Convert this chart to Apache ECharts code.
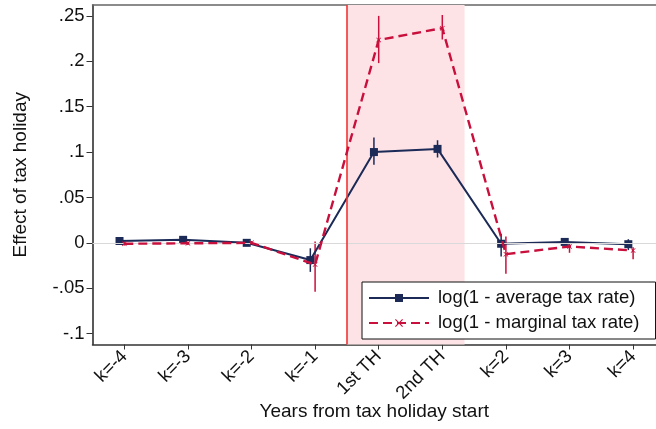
<!DOCTYPE html>
<html>
<head>
<meta charset="utf-8">
<script src="https://cdn.jsdelivr.net/npm/echarts@6/dist/echarts.min.js"></script>
<style>
html,body{margin:0;padding:0;background:#fff;}
#chart{width:656px;height:429px;}
</style>
</head>
<body>
<div id="chart"></div>
<script>
// ---- data ----
var categories = ['k=-4', 'k=-3', 'k=-2', 'k=-1', '1st TH', '2nd TH', 'k=2', 'k=3', 'k=4'];
var avgValues = [0.002, 0.0033, 0.000, -0.019, 0.100, 0.1035, -0.001, 0.001, -0.0015];
var avgLow    = [0.000, 0.0013, -0.002, -0.032, 0.086, 0.094, -0.015, -0.002, -0.008];
var avgHigh   = [0.004, 0.0053, 0.002, -0.006, 0.116, 0.113, 0.010, 0.004, 0.004];
var margValues = [-0.001, -0.0005, 0.000, -0.024, 0.2235, 0.2365, -0.0125, -0.004, -0.0085];
var margLow    = [-0.003, -0.0025, -0.002, -0.054, 0.198, 0.224, -0.034, -0.011, -0.018];
var margHigh   = [0.001, 0.0015, 0.002, 0.0015, 0.250, 0.251, 0.007, -0.001, -0.005];
var yTickValues = [-0.1, -0.05, 0, 0.05, 0.1, 0.15, 0.2, 0.25];
var seriesNames = ['log(1 - average tax rate)', 'log(1 - marginal tax rate)'];
var holidayStart = 3.5, holidayEnd = 5.35;

// ---- styling ----
var NAVY = '#1b2a57';
var RED = '#c9103d';
var FONT = 'Liberation Sans, Arial, sans-serif';
var avgShift = -0.075;
var xIdx = categories.map(function (c, i) { return i; });

function pts(vals, shift) {
  return vals.map(function (v, i) { return [i + shift, v]; });
}
function ciData(lo, hi, shift) {
  return lo.map(function (l, i) { return [i + shift, l, hi[i]]; });
}
function ciSeries(lo, hi, shift, color) {
  return {
    type: 'custom',
    silent: true,
    z: 3,
    data: ciData(lo, hi, shift),
    encode: { x: 0, y: [1, 2] },
    renderItem: function (params, api) {
      var a = api.coord([api.value(0), api.value(1)]);
      var b = api.coord([api.value(0), api.value(2)]);
      return {
        type: 'line',
        shape: { x1: a[0], y1: a[1], x2: b[0], y2: b[1] },
        style: { stroke: color, lineWidth: 1.5 }
      };
    }
  };
}
function fmtY(v) {
  if (Math.abs(v) < 1e-9) return '0';
  var s = String(Math.round(v * 100) / 100);
  return s.replace('0.', '.');
}

var chart = echarts.init(document.getElementById('chart'), null, { renderer: 'canvas' });
var option = {
  animation: false,
  backgroundColor: '#ffffff',
  textStyle: { fontFamily: FONT },
  grid: { left: 92.5, right: 0, top: 5, bottom: 84.5, containLabel: false, outerBoundsMode: 'none' },
  legend: {
    data: [
      { name: seriesNames[0] },
      { name: seriesNames[1] }
    ],
    orient: 'vertical',
    left: 362,
    top: 282,
    itemWidth: 60,
    itemHeight: 10,
    itemGap: 5,
    padding: [6, 16, 6, 6],
    backgroundColor: '#ffffff',
    borderColor: '#111111',
    borderWidth: 1,
    textStyle: { fontSize: 18.5, lineHeight: 20, color: '#111', fontFamily: FONT, padding: [0, 0, 0, 4] }
  },
  xAxis: [{
    type: 'value',
    min: -0.5,
    max: 8.36,
    name: 'Years from tax holiday start',
    nameLocation: 'middle',
    nameMoveOverlap: false,
    nameGap: 58,
    nameTextStyle: { fontSize: 19, color: '#111', fontFamily: FONT },
    axisLine: { show: true, onZero: false, lineStyle: { color: '#333', width: 1.5 } },
    axisTick: { show: true, length: 5, customValues: xIdx, lineStyle: { color: '#333', width: 1 } },
    axisLabel: {
      customValues: xIdx,
      rotate: 45,
      margin: 9,
      fontSize: 18.5,
      color: '#111',
      fontFamily: FONT,
      formatter: function (v) { return categories[Math.round(v)]; }
    },
    splitLine: { show: false }
  }, {
    type: 'value',
    position: 'top',
    min: -0.5,
    max: 8.36,
    axisLine: { show: true, onZero: false, lineStyle: { color: '#666', width: 1.5 } },
    axisTick: { show: false },
    axisLabel: { show: false },
    splitLine: { show: false }
  }],
  yAxis: {
    type: 'value',
    min: -0.112,
    max: 0.262,
    name: 'Effect of tax holiday',
    nameLocation: 'middle',
    nameMoveOverlap: false,
    nameGap: 62,
    nameRotate: 90,
    nameTextStyle: { fontSize: 19, color: '#111', fontFamily: FONT },
    axisLine: { show: true, onZero: false, lineStyle: { color: '#222', width: 1.5 } },
    axisTick: { show: true, length: 6, customValues: yTickValues, lineStyle: { color: '#333', width: 1 } },
    axisLabel: {
      customValues: yTickValues,
      margin: 8,
      fontSize: 18.5,
      color: '#111',
      fontFamily: FONT,
      formatter: fmtY
    },
    splitLine: { show: false }
  },
  series: [
    {
      name: 'shade',
      type: 'line',
      data: [],
      silent: true,
      z: 0,
      markArea: {
        silent: true,
        itemStyle: { color: '#fde3e6', opacity: 1 },
        data: [[{ xAxis: holidayStart }, { xAxis: holidayEnd }]]
      },
      markLine: {
        silent: true,
        symbol: 'none',
        label: { show: false },
        data: [
          { yAxis: 0, lineStyle: { color: '#d9d9d9', width: 1.2, type: 'solid' } },
          { xAxis: holidayStart, lineStyle: { color: '#f23434', width: 1.6, type: 'solid' } }
        ]
      }
    },
    ciSeries(avgLow, avgHigh, avgShift, NAVY),
    ciSeries(margLow, margHigh, 0, RED),
    {
      name: seriesNames[0],
      type: 'line',
      z: 4,
      data: pts(avgValues, avgShift),
      symbol: 'rect',
      symbolSize: 8,
      lineStyle: { color: NAVY, width: 2 },
      itemStyle: { color: NAVY },
      emphasis: { disabled: true }
    },
    {
      name: seriesNames[1],
      type: 'line',
      z: 5,
      data: pts(margValues, 0),
      symbol: 'path://M0,1L1,0L5,4L9,0L10,1L6,5L10,9L9,10L5,6L1,10L0,9L4,5Z',
      symbolSize: 5,
      lineStyle: { color: RED, width: 2.4, type: [9, 5] },
      itemStyle: { color: RED },
      emphasis: { disabled: true }
    }
  ]
};
chart.setOption(option);
</script>
</body>
</html>
